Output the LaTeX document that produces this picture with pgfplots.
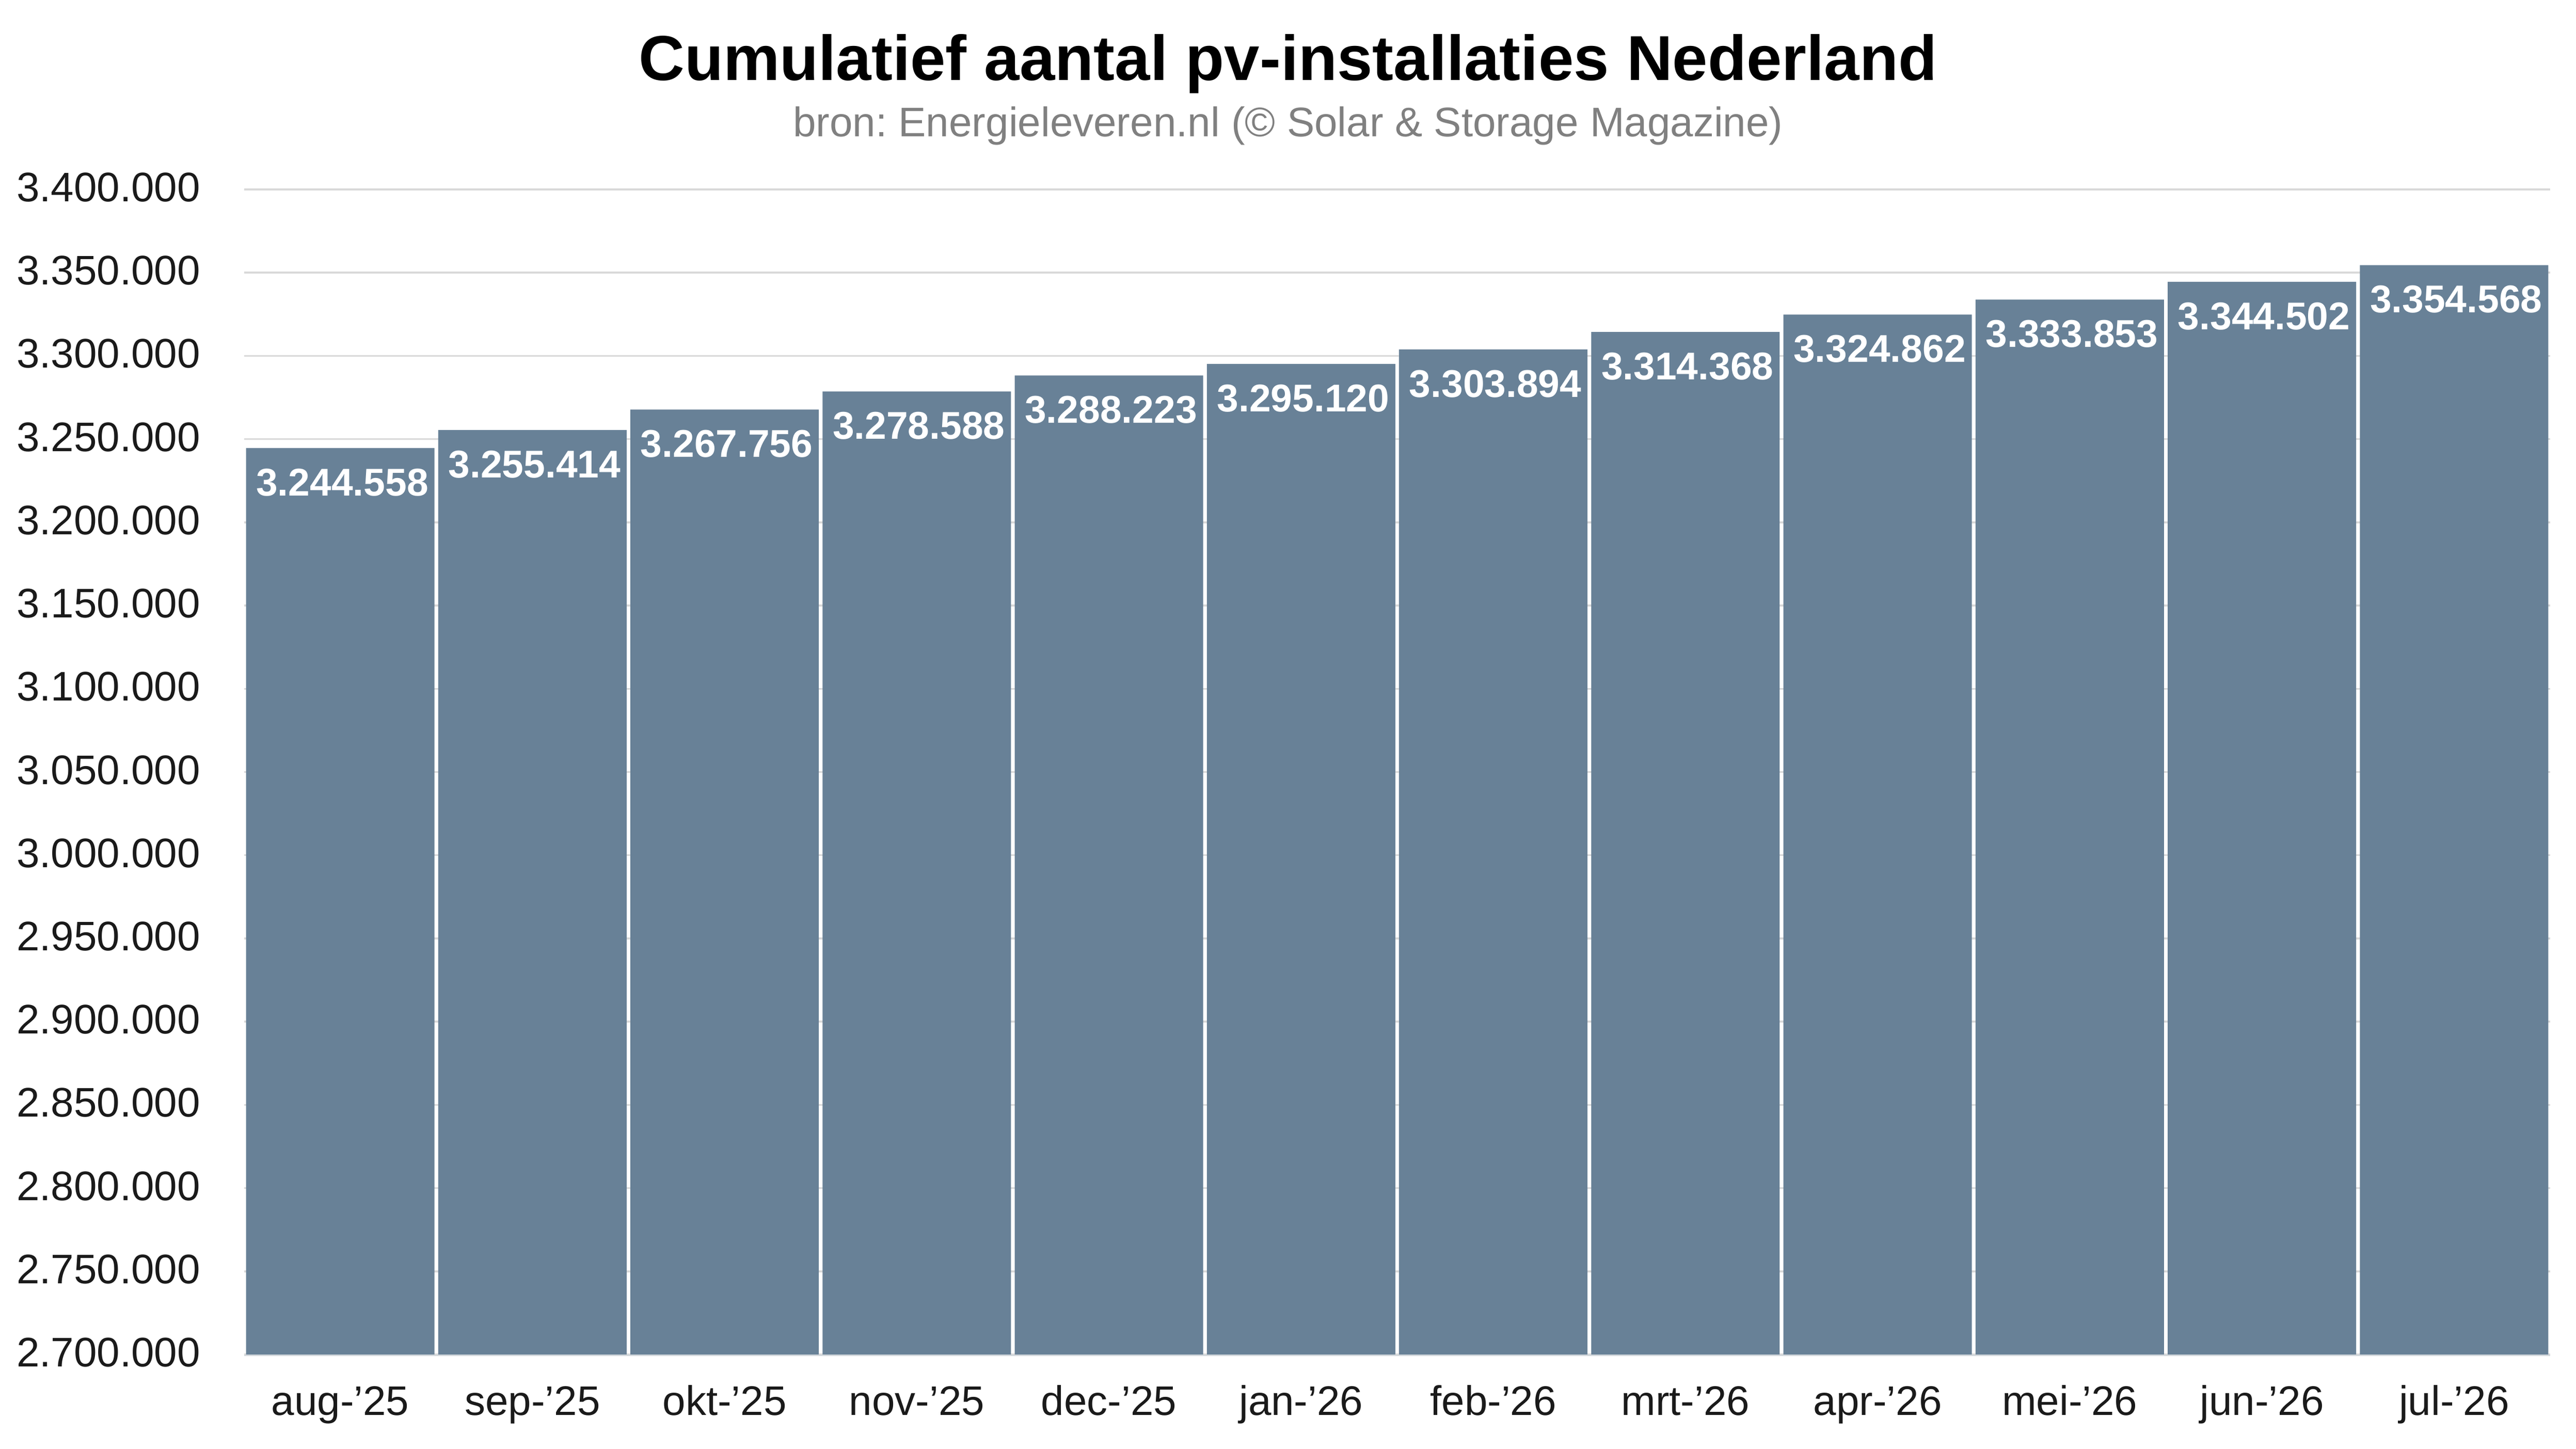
\documentclass[border=0pt]{standalone}
\usepackage{fontspec}
\setmainfont{Liberation Sans}
\usepackage{pgfplots}
\pgfplotsset{compat=1.18}
\usepackage{pgfplotstable}
\frenchspacing
\definecolor{barcol}{RGB}{104,129,151}
\definecolor{gridcol}{RGB}{217,217,217}
\definecolor{axcol}{RGB}{211,216,220}
\definecolor{subcol}{RGB}{128,128,128}
\definecolor{tickcol}{RGB}{26,26,26}
\pgfplotstableread{
x y label
0 3244558 3.244.558
1 3255414 3.255.414
2 3267756 3.267.756
3 3278588 3.278.588
4 3288223 3.288.223
5 3295120 3.295.120
6 3303894 3.303.894
7 3314368 3.314.368
8 3324862 3.324.862
9 3333853 3.333.853
10 3344502 3.344.502
11 3354568 3.354.568
}\datatable
\begin{document}
\begin{tikzpicture}
\path[use as bounding box] (-47.3pt,-18.3pt) rectangle (451.7pt,262.4pt);
\begin{axis}[
  at={(0,0)}, anchor=south west,
  scale only axis, width=446.7pt, height=225.7pt,
  xmin=-0.5, xmax=11.5, ymin=2700000, ymax=3400000,
  ybar, bar width=0.981,
  ytick={2700000,2750000,2800000,2850000,2900000,2950000,3000000,3050000,3100000,3150000,3200000,3250000,3300000,3350000,3400000},
  xtick={0,1,2,3,4,5,6,7,8,9,10,11},
  xticklabels={aug-’25,sep-’25,okt-’25,nov-’25,dec-’25,jan-’26,feb-’26,mrt-’26,apr-’26,mei-’26,jun-’26,jul-’26},
  ymajorgrids, grid style={draw=gridcol, line width=0.35pt},
  major tick length=0,
  axis line style={draw=none},
  scaled y ticks=false,
  tick label style={font=\fontsize{8}{9.6}\selectfont, text=tickcol},
  xticklabel style={anchor=base, yshift=-11.8pt, inner sep=0pt},
  yticklabel style={anchor=east, inner sep=0pt, xshift=-8.3pt, yshift=0.4pt,
    /pgf/number format/.cd, fixed, precision=0, 1000 sep={.}, assume math mode=true},
  clip=false,
  every node near coord/.append style={anchor=north, yshift=-3.8pt, xshift=0.4pt, inner sep=0pt, text=white,
    font=\bfseries\fontsize{7.5}{9}\selectfont},
]
\addplot[fill=barcol, draw=none, point meta=explicit symbolic, nodes near coords={\pgfplotspointmeta}]
  table[x=x, y=y, meta=label]{\datatable};
\end{axis}
\draw[axcol, line width=0.35pt] (0,-0.15pt) -- (446.7pt,-0.15pt);
\node[anchor=base, font=\bfseries\fontsize{12.3}{14}\selectfont] at (202.2pt,246.8pt) {Cumulatief aantal pv-installaties Nederland};
\node[anchor=base, text=subcol, font=\fontsize{8}{9.6}\selectfont] at (202.2pt,235.9pt) {bron: Energieleveren.nl (© Solar \& Storage Magazine)};
\end{tikzpicture}
\end{document}
